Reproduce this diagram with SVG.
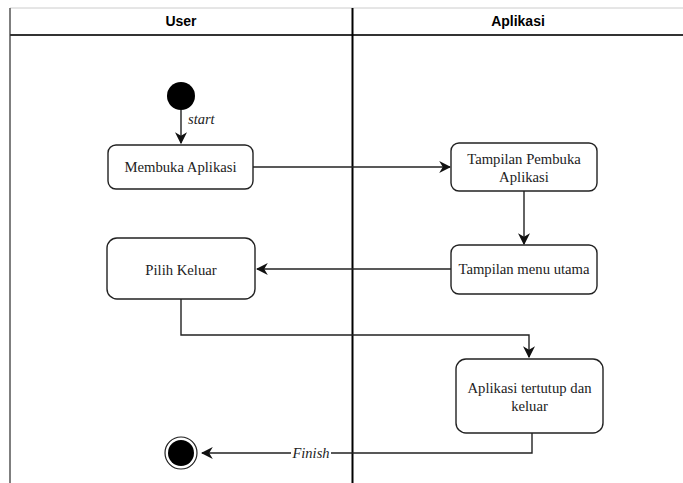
<svg xmlns="http://www.w3.org/2000/svg" width="683" height="483" viewBox="0 0 683 483">
  <style>
    .lane-title { font-family: "Liberation Sans", Arial, sans-serif; font-weight: bold; font-size: 14px; fill: #000; text-anchor: middle; }
    .act rect { fill: #fff; stroke: #222; stroke-width: 1.4; }
    .act text { font-family: "Liberation Serif", "Times New Roman", serif; font-size: 14.7px; fill: #222; text-anchor: middle; }
    .edge { fill: none; stroke: #222; stroke-width: 1.4; }
    .lbl { font-family: "Liberation Serif", "Times New Roman", serif; font-style: italic; font-size: 14.5px; fill: #222; }
  </style>
  <defs>
    <marker id="arrow" viewBox="0 0 10 10" refX="9" refY="5" markerWidth="12" markerHeight="12" markerUnits="userSpaceOnUse" orient="auto">
      <path d="M0,0 L10,5 L0,10 L3,5 Z" fill="#111"/>
    </marker>
  </defs>
  <rect width="683" height="483" fill="#fff"/>

  <!-- swimlane frame -->
  <g id="lanes">
    <line x1="10" y1="8" x2="683" y2="8" stroke="#ccc" stroke-width="1"/>
    <line x1="10" y1="8" x2="10" y2="483" stroke="#555" stroke-width="1.5"/>
    <line x1="10" y1="35" x2="683" y2="35" stroke="#333" stroke-width="2"/>
    <line x1="352.5" y1="8" x2="352.5" y2="483" stroke="#000" stroke-width="2"/>
    <text class="lane-title" x="181" y="26">User</text>
    <text class="lane-title" x="518" y="26">Aplikasi</text>
  </g>

  <!-- connectors -->
  <g id="connectors">
    <line class="edge" x1="181" y1="110" x2="181" y2="143" marker-end="url(#arrow)"/>
    <line class="edge" x1="253" y1="167" x2="450" y2="167" marker-end="url(#arrow)"/>
    <line class="edge" x1="524" y1="191" x2="524" y2="244" marker-end="url(#arrow)"/>
    <line class="edge" x1="451" y1="269" x2="257" y2="269" marker-end="url(#arrow)"/>
    <polyline class="edge" points="181,299 181,335 529,335 529,357" marker-end="url(#arrow)"/>
    <polyline class="edge" points="532,433 532,453 202,453" marker-end="url(#arrow)"/>
    <text class="lbl" x="188" y="124">start</text>
    <rect x="291" y="444" width="40" height="16" fill="#fff"/>
    <text class="lbl" x="311" y="458" text-anchor="middle">Finish</text>
  </g>

  <!-- start node -->
  <g id="start">
    <circle cx="181" cy="96" r="14" fill="#000"/>
  </g>

  <g id="membuka" class="act">
    <rect x="108" y="145" width="145" height="44" rx="8"/>
    <text x="180.5" y="172">Membuka Aplikasi</text>
  </g>

  <g id="tampilan-pembuka" class="act">
    <rect x="451" y="143" width="146" height="48" rx="8"/>
    <text x="524" y="164">Tampilan Pembuka</text>
    <text x="524" y="182">Aplikasi</text>
  </g>

  <g id="menu-utama" class="act">
    <rect x="451" y="245" width="146" height="49" rx="8"/>
    <text x="524" y="274">Tampilan menu utama</text>
  </g>

  <g id="pilih-keluar" class="act">
    <rect x="107" y="238" width="148" height="61" rx="10"/>
    <text x="181" y="275">Pilih Keluar</text>
  </g>

  <g id="tertutup" class="act">
    <rect x="456" y="359" width="147" height="74" rx="10"/>
    <text x="529.5" y="393">Aplikasi tertutup dan</text>
    <text x="529.5" y="411">keluar</text>
  </g>

  <!-- end node -->
  <g id="end">
    <circle cx="181" cy="453" r="16" fill="#fff" stroke="#222" stroke-width="1.2"/>
    <circle cx="181" cy="453" r="13" fill="#000"/>
  </g>
</svg>
